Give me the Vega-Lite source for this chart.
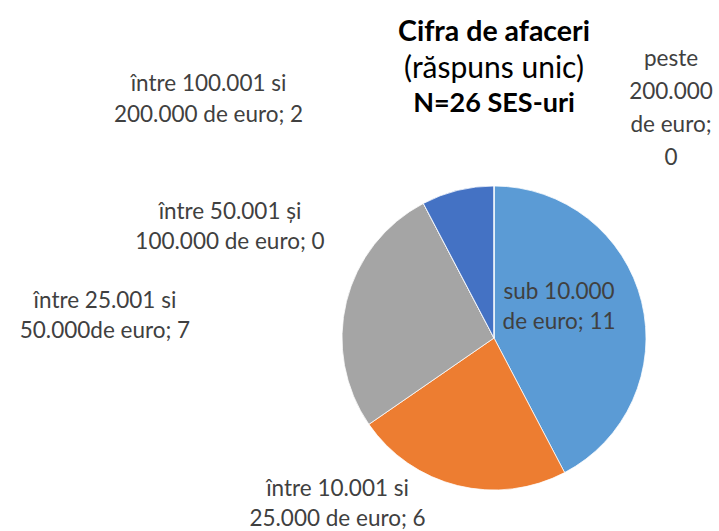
{
  "$schema": "https://vega.github.io/schema/vega-lite/v6.json",
  "width": 304,
  "height": 304,
  "autosize": {"type": "none"},
  "padding": {"left": 342, "top": 186, "right": 73, "bottom": 41},
  "background": "#ffffff",
  "config": {"view": {"stroke": null}, "font": "Lato"},
  "title": {
    "text": "Cifra de afaceri",
    "subtitle": "(răspuns unic)",
    "anchor": "middle",
    "frame": "group",
    "font": "Lato",
    "fontSize": 28.5,
    "fontWeight": "bold",
    "color": "#000000",
    "subtitleFont": "Lato",
    "subtitleFontSize": 30,
    "subtitleFontWeight": "normal",
    "subtitleColor": "#000000",
    "subtitlePadding": 8,
    "offset": -86
  },
  "data": {
    "values": [
      {"cat": "sub 10.000 de euro", "value": 11, "rank": 1, "label": "sub 10.000\nde euro; 11"},
      {"cat": "între 10.001 si 25.000 de euro", "value": 6, "rank": 2, "label": "între 10.001 si\n25.000 de euro; 6"},
      {"cat": "între 25.001 si 50.000 de euro", "value": 7, "rank": 3, "label": "între 25.001 si\n50.000de euro; 7"},
      {"cat": "între 50.001 și 100.000 de euro", "value": 0, "rank": 4, "label": "între 50.001 și\n100.000 de euro; 0"},
      {"cat": "între 100.001 si 200.000 de euro", "value": 2, "rank": 5, "label": "între 100.001 si\n200.000 de euro; 2"},
      {"cat": "peste 200.000 de euro", "value": 0, "rank": 6, "label": "peste\n200.000\nde euro;\n0"}
    ]
  },
  "layer": [
    {
      "encoding": {
        "theta": {"field": "value", "type": "quantitative", "stack": true},
        "order": {"field": "rank", "type": "quantitative"},
        "detail": {"field": "cat", "type": "nominal"}
      },
      "layer": [
        {
          "mark": {"type": "arc", "stroke": "#ffffff", "strokeWidth": 0.75},
          "encoding": {
            "color": {
              "field": "cat",
              "type": "nominal",
              "scale": {
                "domain": ["sub 10.000 de euro", "între 10.001 si 25.000 de euro", "între 25.001 si 50.000 de euro", "între 50.001 și 100.000 de euro", "între 100.001 si 200.000 de euro", "peste 200.000 de euro"],
                "range": ["#5B9BD5", "#ED7D31", "#A5A5A5", "#FFC000", "#4472C4", "#70AD47"]
              },
              "legend": null
            }
          }
        },
        {
          "mark": {"type": "text", "radius": 70.8, "dx": -3.7, "dy": -29.1, "align": "center", "baseline": "middle", "lineBreak": "\n", "lineHeight": 30, "font": "Lato", "fontSize": 22.5, "color": "#404040"},
          "encoding": {"text": {"condition": {"test": "datum.rank === 1", "field": "label", "type": "nominal"}, "value": ""}}
        },
        {
          "mark": {"type": "text", "radius": 196.7, "dx": -109.4, "dy": -39.5, "align": "center", "baseline": "middle", "lineBreak": "\n", "lineHeight": 30, "font": "Lato", "fontSize": 22.5, "color": "#404040"},
          "encoding": {"text": {"condition": {"test": "datum.rank === 2", "field": "label", "type": "nominal"}, "value": ""}}
        },
        {
          "mark": {"type": "text", "radius": 383.4, "dx": -16.8, "dy": 54.8, "align": "center", "baseline": "middle", "lineBreak": "\n", "lineHeight": 30, "font": "Lato", "fontSize": 22.5, "color": "#404040"},
          "encoding": {"text": {"condition": {"test": "datum.rank === 3", "field": "label", "type": "nominal"}, "value": ""}}
        },
        {
          "mark": {"type": "text", "radius": 221.9, "dx": -160.9, "dy": 70.5, "align": "center", "baseline": "middle", "lineBreak": "\n", "lineHeight": 30, "font": "Lato", "fontSize": 22.5, "color": "#404040"},
          "encoding": {"text": {"condition": {"test": "datum.rank === 4", "field": "label", "type": "nominal"}, "value": ""}}
        },
        {
          "mark": {"type": "text", "radius": 299.4, "dx": -213.8, "dy": 36.7, "align": "center", "baseline": "middle", "lineBreak": "\n", "lineHeight": 31, "font": "Lato", "fontSize": 22.5, "color": "#404040"},
          "encoding": {"text": {"condition": {"test": "datum.rank === 5", "field": "label", "type": "nominal"}, "value": ""}}
        },
        {
          "mark": {"type": "text", "radius": 229.4, "dx": 177, "dy": -50, "align": "center", "baseline": "middle", "lineBreak": "\n", "lineHeight": 33, "font": "Lato", "fontSize": 22.5, "color": "#404040"},
          "encoding": {"text": {"condition": {"test": "datum.rank === 6", "field": "label", "type": "nominal"}, "value": ""}}
        }
      ]
    },
    {
      "transform": [{"aggregate": [{"op": "sum", "field": "value", "as": "n"}]}],
      "mark": {"type": "text", "text": "N=26 SES-uri", "dy": -234, "align": "center", "baseline": "middle", "font": "Lato", "fontSize": 27, "fontWeight": "bold", "color": "#000000"}
    }
  ]
}
